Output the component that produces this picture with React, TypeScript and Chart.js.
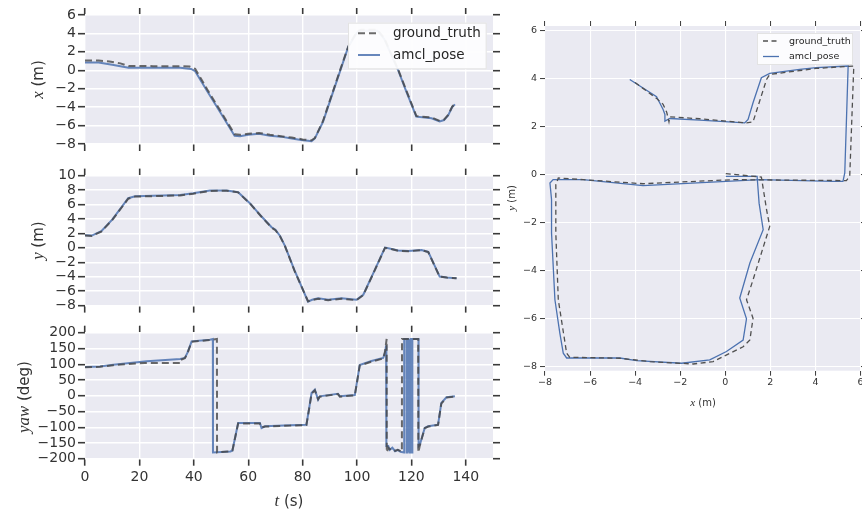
import React, { useEffect, useRef } from 'react';
import { Chart, registerables } from 'chart.js';
Chart.register(...registerables);

const W = 862;
const H = 514;

// ---------------- data ----------------
// x(t) panel
const xAmclT = [0, 5, 10, 16, 25, 35, 39, 40.5, 45, 50, 55, 57, 60, 64, 68, 72, 76, 80, 82, 83.3, 84.5, 86, 87.5, 90, 94, 96.8, 100, 101.5, 107.5, 110, 115.1, 118, 121.8, 124, 127.4, 130.4, 132, 133.5, 135, 136];
const xAmclV = [0.85, 0.85, 0.6, 0.28, 0.28, 0.28, 0.15, -0.1, -2.3, -4.7, -7.1, -7.15, -7.0, -6.9, -7.1, -7.2, -7.4, -7.6, -7.65, -7.7, -7.4, -6.5, -5.6, -3.4, 0.1, 2.56, 4.1, 4.3, 4.3, 3.4, 0.03, -2.2, -5.03, -5.1, -5.2, -5.55, -5.4, -4.9, -4.0, -3.7];
const xTruthT = [0, 5, 9, 13, 16, 25, 35, 38.5, 40.5, 42, 45, 50, 55, 57, 60, 64, 68, 72, 76, 80, 82, 83.3, 84.5, 86, 87.5, 90, 94, 96.8, 100, 101.5, 107.5, 110, 115.1, 118, 121.8, 124, 127.4, 130.4, 132, 133.5, 135, 136];
const xTruthV = [1.05, 1.05, 0.95, 0.75, 0.47, 0.45, 0.45, 0.4, 0.15, -0.6, -2.1, -4.5, -6.95, -7.0, -6.9, -6.8, -7.0, -7.15, -7.3, -7.5, -7.55, -7.6, -7.35, -6.45, -5.5, -3.3, 0.2, 2.6, 4.2, 4.4, 4.4, 3.5, 0.1, -2.1, -4.95, -5.05, -5.1, -5.5, -5.35, -4.85, -3.95, -3.65];

// y(t) panel
const yTime = [0, 2.5, 6, 10, 15.9, 18.4, 25, 35, 39.8, 45.9, 52.1, 56.3, 60.6, 64.9, 68.6, 70, 71.7, 73.5, 77, 82, 83.5, 85.7, 89.4, 94.3, 99.8, 102.3, 106, 110.3, 112, 115.1, 118.8, 123.7, 126.2, 130.4, 133, 136.6];
const yAmclV = [1.75, 1.7, 2.3, 3.9, 6.87, 7.15, 7.2, 7.3, 7.55, 7.92, 7.92, 7.7, 6.18, 4.33, 2.85, 2.5, 1.65, 0.27, -3.1, -7.45, -7.2, -7.0, -7.2, -7.0, -7.2, -6.5, -3.5, 0.03, -0.1, -0.38, -0.45, -0.29, -0.57, -3.98, -4.1, -4.2];
const yTruthV = [1.7, 1.65, 2.25, 3.85, 6.8, 7.1, 7.15, 7.25, 7.5, 7.88, 7.9, 7.68, 6.15, 4.3, 2.8, 2.45, 1.6, 0.25, -3.15, -7.4, -7.25, -7.05, -7.25, -7.05, -7.25, -6.55, -3.55, 0.0, -0.12, -0.4, -0.48, -0.32, -0.6, -4.0, -4.12, -4.22];

// yaw(t) panel
const yawAmclT = [0, 5.5, 10.4, 22.7, 35, 36.7, 37.6, 39.2, 45.9, 47, 47.05, 53.5, 54.2, 56.3, 64.3, 64.9, 66.2, 75.3, 81.4, 82.4, 83.3, 84.5, 85.7, 86.3, 93, 93.7, 99.2, 100.3, 101, 105.3, 109.6, 110.3, 110.7, 110.8, 111.5, 112, 113, 114, 115, 116, 117.3, 117.35, 118.2, 118.25, 118.5, 118.55, 118.8, 118.85, 119.1, 119.15, 119.4, 119.45, 119.7, 119.75, 120.0, 120.05, 120.3, 120.35, 122.6, 122.65, 123.1, 124.9, 126.2, 129.8, 131, 132.9, 136];
const yawAmclV = [91, 93, 98, 109, 116.5, 120, 135, 172.6, 177.8, 180, -180, -177, -174, -86.7, -86.7, -102.5, -97, -94, -92, -40, 8.6, 19, -12.7, -2, 6.3, -2, 2, 60, 97.5, 110, 119.6, 135, 160, -160, -160, -172, -165, -176, -172, -178, -180, 180, 180, -180, -180, 180, 180, -180, -180, 180, 180, -180, -180, 180, 180, -180, -180, 180, 180, -160, -155.6, -102.5, -97, -92, -23, -5, -2];
const yawTruthT = [0, 5.5, 10.4, 20, 22, 35, 35.2, 36.7, 37.6, 39.2, 45.9, 48.5, 48.55, 53.5, 54.2, 56.3, 64.3, 64.9, 66.2, 75.3, 81.4, 82.4, 83.3, 84.5, 85.7, 86.3, 93, 93.7, 99.2, 100.3, 101, 105.3, 109.6, 110.3, 110.9, 110.95, 111.5, 112, 113, 114, 115, 116.5, 116.55, 122.5, 122.55, 123.1, 124.9, 126.2, 129.8, 131, 132.9, 136];
const yawTruthV = [90, 92, 97, 103, 103.5, 103.5, 114, 119, 133, 171, 177, 180, -180, -177, -174, -88, -88, -101, -98, -95, -93, -42, 7, 17, -11, -3, 5, -3, 1, 58, 96, 108, 118, 140, 180, -180, -165, -170, -168, -175, -172, -178, 180, 180, -180, -158, -103, -98, -93, -25, -6, -3];

// x-y trajectory panel
const trajAmclX = [0.02, 1.41, 1.5, 1.68, 1.09, 0.64, 0.94, 0.79, 0.05, -0.69, -1.94, -3.94, -4.68, -7.04, -7.19, -7.34, -7.56, -7.71, -7.71, -7.78, -7.64, -6.31, -3.65, 0.05, 1.53, 4.78, 5.22, 5.3, 5.45, 4.04, 3.3, 1.97, 1.6, 1.23, 1.01, 0.86, -1.13, -2.46, -2.68, -2.68, -2.76, -3.05, -4.24];
const trajAmclY = [-0.07, -0.07, -1.2, -2.3, -3.69, -5.15, -6.02, -6.9, -7.38, -7.73, -7.87, -7.76, -7.65, -7.65, -7.45, -6.62, -5.22, -2.44, -1.04, -0.35, -0.21, -0.21, -0.46, -0.28, -0.21, -0.28, -0.28, 0.07, 4.53, 4.46, 4.39, 4.22, 4.04, 3.0, 2.3, 2.16, 2.27, 2.34, 2.23, 2.51, 2.72, 3.25, 3.97];
const trajTruthX = [0.02, 1.6, 1.83, 1.97, 1.23, 0.94, 1.23, 1.09, 0.79, -0.54, -1.43, -3.35, -4.68, -6.9, -7.04, -7.41, -7.52, -7.52, -7.41, -6.31, -3.65, 0.35, 5.37, 5.52, 5.7, 4.04, 1.97, 1.83, 1.45, 1.23, 0.94, -1.13, -2.46, -2.5, -2.6, -2.76, -3.05, -4.09];
const trajTruthY = [0.04, -0.1, -1.46, -2.16, -4.39, -5.22, -5.99, -6.9, -7.18, -7.8, -7.9, -7.8, -7.66, -7.62, -7.45, -5.22, -2.44, -0.42, -0.14, -0.21, -0.38, -0.21, -0.25, -0.07, 4.53, 4.43, 4.18, 3.97, 2.85, 2.2, 2.16, 2.33, 2.41, 2.2, 2.6, 2.93, 3.18, 3.9];

// axis ranges [min, max, step]
const tAxis = [0, 150, 20];
const xAxisRange = [-8, 6, 2];
const yAxisRange = [-8, 10, 2];
const yawAxisRange = [-200, 200, 50];
const trajXRange = [-8, 6.02, 2];
const trajYRange = [-8.18, 6.2, 2];

const seriesLabels = ['ground_truth', 'amcl_pose'];

// ---------------- helpers ----------------
const SANS = '"DejaVu Sans", "Liberation Sans", sans-serif';
const SERIF = '"Liberation Serif", "DejaVu Serif", serif';
const BLUE = '#4C72B0';
const TEXT = '#333333';

const pts = (xs: number[], ys: number[]) => xs.map((x, i) => ({ x, y: ys[i] }));
const fmt = (v: number) => {
  const r = Math.round(v * 100) / 100;
  return r < 0 ? '\u2212' + String(Math.abs(r)) : String(r);
};

type Box = { left: number; right: number; top: number; bottom: number };
type Sizes = { left: number; right: number; top: number; bottom: number };

function axis(position: string, r: number[], size: number, o: { labels: boolean; grid: boolean; tl: number; tw: number; font: number; gw: number; pad: number }) {
  return {
    type: 'linear',
    position,
    min: r[0],
    max: r[1],
    border: { display: false },
    grid: {
      display: true,
      drawOnChartArea: o.grid,
      color: '#ffffff',
      lineWidth: o.gw,
      drawTicks: true,
      tickLength: o.tl,
      tickColor: '#3a3a3a',
      tickWidth: o.tw,
    },
    ticks: {
      display: o.labels,
      stepSize: r[2],
      includeBounds: false,
      autoSkip: false,
      maxRotation: 0,
      minRotation: 0,
      padding: o.pad,
      color: TEXT,
      font: { family: SANS, size: o.font },
      callback: (v: number) => fmt(v),
    },
    afterFit: (s: any) => {
      if (s.isHorizontal()) s.height = size;
      else s.width = size;
      s.paddingLeft = 0;
      s.paddingRight = 0;
      s.paddingTop = 0;
      s.paddingBottom = 0;
    },
  };
}

const bgPlugin = {
  id: 'mplBg',
  beforeDraw(chart: any) {
    const { ctx, chartArea: a } = chart;
    ctx.save();
    ctx.fillStyle = '#EAEAF2';
    ctx.fillRect(a.left, a.top, a.right - a.left, a.bottom - a.top);
    ctx.restore();
  },
};

type LegendCfg = { box: number[]; sample: number[]; textX: number; rows: number[]; font: number };

function legendPlugin(cfg: LegendCfg) {
  return {
    id: 'mplLegend',
    afterDatasetsDraw(chart: any) {
      const ctx = chart.ctx;
      const [x, y, w, h] = cfg.box;
      ctx.save();
      ctx.fillStyle = 'rgba(253,253,254,0.94)';
      ctx.fillRect(x, y, w, h);
      ctx.strokeStyle = 'rgba(220,220,220,0.8)';
      ctx.lineWidth = 1;
      ctx.strokeRect(x + 0.5, y + 0.5, w - 1, h - 1);
      chart.data.datasets.forEach((ds: any, i: number) => {
        const cy = cfg.rows[i];
        ctx.beginPath();
        ctx.setLineDash(ds.borderDash || []);
        ctx.strokeStyle = ds.borderColor;
        ctx.lineWidth = ds.borderWidth;
        ctx.moveTo(cfg.sample[0], cy);
        ctx.lineTo(cfg.sample[1], cy);
        ctx.stroke();
        ctx.setLineDash([]);
        ctx.fillStyle = '#262626';
        ctx.font = `${cfg.font}px ${SANS}`;
        ctx.textBaseline = 'middle';
        ctx.textAlign = 'left';
        ctx.fillText(ds.label, cfg.textX, cy + 0.5);
      });
      ctx.restore();
    },
  };
}

type Part = { text: string; italic?: boolean };
type Title = { cx: number; cy: number; rot: number; size: number; parts: Part[] };

function titlePlugin(titles: Title[]) {
  return {
    id: 'mplTitles',
    afterDraw(chart: any) {
      const ctx = chart.ctx;
      titles.forEach((t) => {
        ctx.save();
        ctx.translate(t.cx, t.cy);
        ctx.rotate(t.rot);
        const fonts = t.parts.map((p) => (p.italic ? `italic ${t.size * 1.12}px ${SERIF}` : `${t.size}px ${SANS}`));
        const widths = t.parts.map((p, i) => {
          ctx.font = fonts[i];
          return ctx.measureText(p.text).width;
        });
        const total = widths.reduce((a, b) => a + b, 0);
        let x = -total / 2;
        ctx.fillStyle = TEXT;
        ctx.textBaseline = 'alphabetic';
        ctx.textAlign = 'left';
        t.parts.forEach((p, i) => {
          ctx.font = fonts[i];
          ctx.fillText(p.text, x, t.size * 0.36);
          x += widths[i];
        });
        ctx.restore();
      });
    },
  };
}

function padFor(b: Box, s: Sizes) {
  return { left: b.left - s.left, right: W - b.right - s.right, top: b.top - s.top, bottom: H - b.bottom - s.bottom };
}

const leftLegend: LegendCfg = { box: [348, 22.7, 138.7, 46.6], sample: [358, 380], textX: 393, rows: [33.3, 55], font: 13.5 };
const rightLegend: LegendCfg = { box: [757, 33, 96, 32], sample: [763, 779], textX: 789, rows: [41, 56.5], font: 9.5 };

function timeChart(
  canvas: HTMLCanvasElement,
  box: Box,
  yr: number[],
  gt: { x: number; y: number }[],
  am: { x: number; y: number }[],
  showX: boolean,
  extra: any[]
) {
  const L = { tl: 7, tw: 1.6, font: 14, gw: 1.4, pad: 2 };
  const sizes: Sizes = { left: 60, right: 7, top: 7, bottom: showX ? 30 : 7 };
  return new Chart(canvas, {
    type: 'line',
    data: {
      datasets: [
        { label: seriesLabels[0], data: gt, borderColor: 'rgba(70,70,70,0.8)', borderWidth: 2, borderDash: [7, 4], pointRadius: 0, tension: 0, fill: false },
        { label: seriesLabels[1], data: am, borderColor: 'rgba(76,114,176,0.85)', borderWidth: 2, pointRadius: 0, tension: 0, fill: false },
      ],
    },
    options: {
      responsive: false,
      animation: false,
      events: [],
      layout: { padding: padFor(box, sizes) },
      plugins: { legend: { display: false }, tooltip: { enabled: false } },
      scales: {
        x: axis('bottom', tAxis, sizes.bottom, { ...L, labels: showX, grid: true, pad: 3 }),
        x2: axis('top', tAxis, sizes.top, { ...L, labels: false, grid: false }),
        y: axis('left', yr, sizes.left, { ...L, labels: true, grid: true }),
        y2: axis('right', yr, sizes.right, { ...L, labels: false, grid: false }),
      } as any,
    },
    plugins: [bgPlugin, ...extra],
  } as any);
}

function buildX(c: HTMLCanvasElement) {
  return timeChart(c, { left: 85, right: 493, top: 15, bottom: 144 }, xAxisRange, pts(xTruthT, xTruthV), pts(xAmclT, xAmclV), false, [
    legendPlugin(leftLegend),
    titlePlugin([{ cx: 38, cy: 79.5, rot: -Math.PI / 2, size: 15, parts: [{ text: 'x', italic: true }, { text: ' (m)' }] }]),
  ]);
}

function buildY(c: HTMLCanvasElement) {
  return timeChart(c, { left: 85, right: 493, top: 175.6, bottom: 305.6 }, yAxisRange, pts(yTime, yTruthV), pts(yTime, yAmclV), false, [
    titlePlugin([{ cx: 38, cy: 240.6, rot: -Math.PI / 2, size: 15, parts: [{ text: 'y', italic: true }, { text: ' (m)' }] }]),
  ]);
}

function buildYaw(c: HTMLCanvasElement) {
  return timeChart(c, { left: 85, right: 493, top: 332.7, bottom: 458.7 }, yawAxisRange, pts(yawTruthT, yawTruthV), pts(yawAmclT, yawAmclV), true, [
    titlePlugin([
      { cx: 24, cy: 397, rot: -Math.PI / 2, size: 15, parts: [{ text: 'yaw', italic: true }, { text: ' (deg)' }] },
      { cx: 289, cy: 501, rot: 0, size: 15, parts: [{ text: 't', italic: true }, { text: ' (s)' }] },
    ]),
  ]);
}

function buildTraj(c: HTMLCanvasElement) {
  const R = { tl: 5, tw: 1, font: 9.5, gw: 1.1, pad: 3 };
  const box: Box = { left: 545, right: 861, top: 26, bottom: 370.7 };
  const sizes: Sizes = { left: 30, right: 1, top: 5, bottom: 20 };
  return new Chart(c, {
    type: 'scatter',
    data: {
      datasets: [
        { label: seriesLabels[0], data: pts(trajTruthX, trajTruthY), showLine: true, borderColor: '#505050', borderWidth: 1.3, borderDash: [5, 3.5], pointRadius: 0, tension: 0 },
        { label: seriesLabels[1], data: pts(trajAmclX, trajAmclY), showLine: true, borderColor: BLUE, borderWidth: 1.3, pointRadius: 0, tension: 0 },
      ],
    },
    options: {
      responsive: false,
      animation: false,
      events: [],
      layout: { padding: padFor(box, sizes) },
      plugins: { legend: { display: false }, tooltip: { enabled: false } },
      scales: {
        x: axis('bottom', trajXRange, sizes.bottom, { ...R, labels: true, grid: true, pad: 1 }),
        x2: axis('top', trajXRange, sizes.top, { ...R, labels: false, grid: false }),
        y: axis('left', trajYRange, sizes.left, { ...R, labels: true, grid: true }),
        y2: axis('right', trajYRange, sizes.right, { ...R, labels: false, grid: false }),
      } as any,
    },
    plugins: [
      bgPlugin,
      legendPlugin(rightLegend),
      titlePlugin([
        { cx: 511, cy: 198, rot: -Math.PI / 2, size: 10, parts: [{ text: 'y', italic: true }, { text: ' (m)' }] },
        { cx: 703, cy: 402, rot: 0, size: 10, parts: [{ text: 'x', italic: true }, { text: ' (m)' }] },
      ]),
    ],
  } as any);
}

function Panel({ build }: { build: (c: HTMLCanvasElement) => Chart }) {
  const ref = useRef<HTMLCanvasElement>(null);
  useEffect(() => {
    const ch = build(ref.current as HTMLCanvasElement);
    return () => ch.destroy();
  }, [build]);
  return <canvas ref={ref} width={W} height={H} style={{ position: 'absolute', left: 0, top: 0, width: W, height: H }} />;
}

export default function App() {
  return (
    <div style={{ position: 'absolute', left: 0, top: 0, width: W, height: H, background: '#ffffff', overflow: 'hidden' }}>
      <Panel build={buildX} />
      <Panel build={buildY} />
      <Panel build={buildYaw} />
      <Panel build={buildTraj} />
    </div>
  );
}
